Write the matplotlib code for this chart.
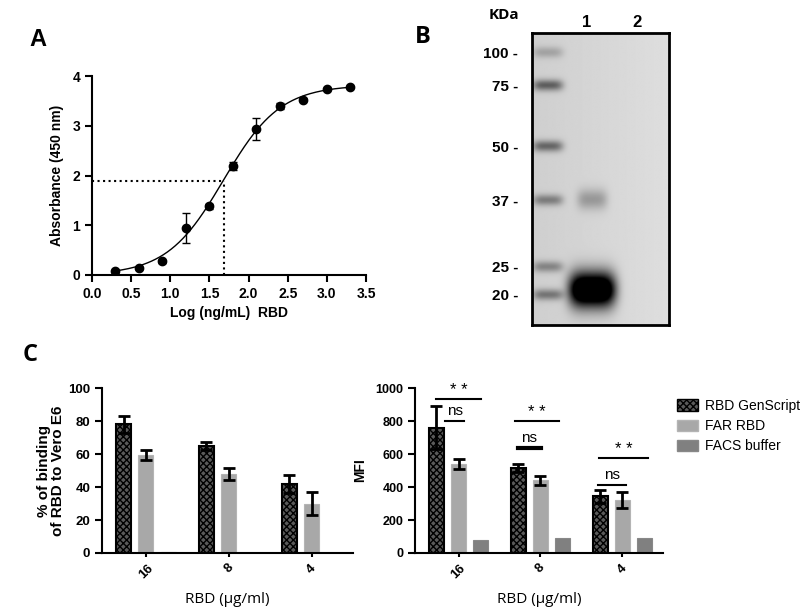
import numpy as np
import matplotlib.pyplot as plt
from matplotlib.patches import Patch

plt.rcParams['font.family'] = ['Liberation Sans', 'DejaVu Sans']

# ---- panel A data (ELISA) ----
log_conc = [0.3, 0.6, 0.9, 1.2, 1.5, 1.8, 2.1, 2.4, 2.7, 3.0, 3.3]
absorb = [0.08, 0.15, 0.28, 0.95, 1.38, 2.19, 2.94, 3.40, 3.53, 3.75, 3.79]
absorb_err = [0.02, 0.02, 0.03, 0.30, 0.05, 0.08, 0.22, 0.07, 0.03, 0.02, 0.02]
# 4PL fit parameters
fit_bottom, fit_top, fit_logec50, fit_hill = 0.0, 3.82, 1.68, 1.2
half_max = 1.9

# ---- panel B data (western blot) ----
kda_labels = ['100', '75', '50', '37', '25', '20']
kda_pos = [0.065, 0.178, 0.387, 0.572, 0.801, 0.897]
ladder_int = [0.3, 0.75, 0.7, 0.55, 0.5, 0.6]
# lane 1 bands: (pos, intensity, height, halfwidth)
lane1_bands = [(0.57, 0.4, 0.035, 0.11), (0.88, 2.2, 0.06, 0.17)]
lane_names = ['1', '2']

# ---- panel C data ----
conc = ['16', '8', '4']
binding_gen = [78, 65, 42]
binding_gen_err = [5, 2.5, 5.5]
binding_far = [59.5, 48, 30]
binding_far_err = [3, 3.5, 7]
binding_facs = [0.5, 0, 0]

mfi_gen = [760, 515, 345]
mfi_gen_err = [130, 25, 40]
mfi_far = [540, 440, 320]
mfi_far_err = [30, 30, 50]
mfi_facs = [80, 88, 88]

# significance brackets: (group, x0, x1, y, label, label_y, lw)
sig_marks = [
    (0, -0.27, 0.27, 933, '* *', 985, 1.5),
    (0, -0.16, 0.07, 800, 'ns', 860, 1.5),
    (1, -0.31, 0.23, 800, '* *', 850, 1.5),
    (1, -0.28, 0.01, 636, 'ns', 700, 3),
    (2, -0.28, 0.31, 575, '* *', 625, 1.5),
    (2, -0.30, 0.04, 412, 'ns', 475, 1.5),
]

fig = plt.figure(figsize=(8, 6.08), dpi=100)

def style_axes(ax):
    for s in ['top', 'right']:
        ax.spines[s].set_visible(False)
    for s in ['left', 'bottom']:
        ax.spines[s].set_linewidth(1.5)
    ax.tick_params(width=1.5, length=5)

# ================= A =================
axA = fig.add_axes([0.115, 0.5477, 0.3425, 0.327])
xs = np.linspace(log_conc[0], log_conc[-1], 300)
ys = fit_bottom + (fit_top - fit_bottom) / (1 + 10 ** ((fit_logec50 - xs) * fit_hill))
axA.plot(xs, ys, color='black', lw=1)
axA.errorbar(log_conc, absorb, yerr=absorb_err, fmt='o', color='black', ms=6,
             capsize=3, elinewidth=1, capthick=1)
axA.plot([0, fit_logec50], [half_max, half_max], ls=':', color='black', lw=1.5)
axA.plot([fit_logec50, fit_logec50], [0, half_max], ls=':', color='black', lw=1.5)
axA.set_xlim(0, 3.5)
axA.set_ylim(0, 4)
axA.set_xticks(np.arange(0, 3.51, 0.5))
axA.set_yticks([0, 1, 2, 3, 4])
style_axes(axA)
for lab in axA.get_xticklabels() + axA.get_yticklabels():
    lab.set_fontweight('bold')
    lab.set_fontsize(10)
axA.set_xlabel('Log (ng/mL)  RBD', fontweight='bold', fontsize=10, labelpad=4)
axA.set_ylabel('Absorbance (450 nm)', fontweight='bold', fontsize=10, labelpad=6)

# ================= B =================
axB = fig.add_axes([0.665, 0.4655, 0.171, 0.480])
ny, nx = 400, 180
yy, xx = np.mgrid[0:1:ny * 1j, 0:1:nx * 1j]
dark = np.zeros_like(yy)
for p, a in zip(kda_pos, ladder_int):
    dark += a * np.exp(-((xx - 0.115) / 0.11) ** 4 - ((yy - p) / 0.019) ** 2)
for p, a, h, w in lane1_bands:
    dark += a * np.exp(-((xx - 0.44) / w) ** 4 - ((yy - p) / h) ** 2)
bg = 0.81 + 0.06 * xx
img = np.clip(bg - 0.6 * dark, 0, 1)
axB.imshow(img, cmap='gray', vmin=0, vmax=1, extent=(0, 1, 1, 0), aspect='auto',
           interpolation='bilinear')
axB.set_xlim(0, 1)
axB.set_ylim(1, 0)
axB.set_xticks([])
axB.set_yticks(kda_pos)
axB.set_yticklabels([k + ' -' for k in kda_labels], fontweight='bold', fontsize=11)
axB.tick_params(axis='y', length=0, pad=10)
for s in axB.spines.values():
    s.set_linewidth(2)
for name, xp in zip(lane_names, [0.40, 0.77]):
    axB.text(xp, 1 + 11 / 292, name, transform=axB.transAxes, ha='center', va='center',
             fontsize=12, fontweight='bold')
fig.text(504 / 800, 1 - 15 / 608, 'KDa', ha='center', va='center', fontsize=11,
         fontweight='bold', family=['Open Sans', 'DejaVu Sans'])

# ================= C =================
gx = np.arange(len(conc))
bw = 0.18
off = 0.27

def draw_bars(ax, gen, gen_err, far, far_err, facs):
    ax.bar(gx - off, gen, bw, color='#5a5a5a', edgecolor='black', linewidth=1.5,
           hatch='xxxxx', zorder=2)
    ax.bar(gx, far, bw, color='#a8a8a8', edgecolor='#b4b4b4', linewidth=0.8, zorder=2)
    ax.bar(gx + off, facs, bw, color='#808080', edgecolor='#888888', linewidth=0.8, zorder=2)
    ax.errorbar(gx - off, gen, yerr=gen_err, fmt='none', ecolor='black', elinewidth=2,
                capsize=4, capthick=2, zorder=3)
    ax.errorbar(gx, far, yerr=far_err, fmt='none', ecolor='black', elinewidth=2,
                capsize=4, capthick=2, zorder=3)
    ax.set_xlim(-0.53, 2.5)
    ax.set_xticks(gx)
    ax.set_xticklabels(conc, rotation=45, fontweight='bold', fontsize=9.5)
    style_axes(ax)
    ax.tick_params(axis='x', length=3)
    ax.set_xlabel('RBD (µg/ml)', fontsize=11, family=['Open Sans', 'DejaVu Sans'],
                  labelpad=8)

axC1 = fig.add_axes([0.1275, 0.0905, 0.314, 0.271])
draw_bars(axC1, binding_gen, binding_gen_err, binding_far, binding_far_err, binding_facs)
axC1.set_ylim(0, 100)
axC1.set_yticks([0, 20, 40, 60, 80, 100])
for lab in axC1.get_yticklabels():
    lab.set_fontweight('bold')
    lab.set_fontsize(9.5)
axC1.set_ylabel('% of binding\nof RBD to Vero E6', fontweight='bold', fontsize=11,
                linespacing=1.0, labelpad=2)

axC2 = fig.add_axes([0.519, 0.0905, 0.31, 0.271])
draw_bars(axC2, mfi_gen, mfi_gen_err, mfi_far, mfi_far_err, mfi_facs)
axC2.set_ylim(0, 1000)
axC2.set_yticks([0, 200, 400, 600, 800, 1000])
for lab in axC2.get_yticklabels():
    lab.set_fontweight('bold')
    lab.set_fontsize(9)
axC2.set_ylabel('MFI', fontweight='bold', fontsize=10, labelpad=6)
for g, x0, x1, y, lab, ly, lw in sig_marks:
    axC2.plot([g + x0, g + x1], [y, y], color='black', lw=lw, clip_on=False)
    axC2.text(g + (x0 + x1) / 2, ly, lab, ha='center', va='center',
              fontsize=12 if lab != 'ns' else 11, clip_on=False)

handles = [Patch(facecolor='#5a5a5a', edgecolor='black', hatch='xxxxx', label='RBD GenScript'),
           Patch(facecolor='#a8a8a8', edgecolor='#b4b4b4', label='FAR RBD'),
           Patch(facecolor='#808080', edgecolor='#888888', label='FACS buffer')]
fig.legend(handles=handles, loc='upper left', bbox_to_anchor=(677 / 800, 1 - 399 / 608),
           frameon=False, fontsize=10, handlelength=1.5, handleheight=0.9,
           labelspacing=0.45, handletextpad=0.5, borderpad=0, borderaxespad=0)

# panel letters
fig.text(38 / 800, 1 - 40 / 608, 'A', ha='center', va='center', fontsize=17, fontweight='bold')
fig.text(423 / 800, 1 - 37 / 608, 'B', ha='center', va='center', fontsize=17,
         fontweight='bold', family=['Open Sans', 'DejaVu Sans'])
fig.text(30 / 800, 1 - 355 / 608, 'C', ha='center', va='center', fontsize=17,
         fontweight='bold', family=['Open Sans', 'DejaVu Sans'])

fig.savefig('out.png', dpi=100)
